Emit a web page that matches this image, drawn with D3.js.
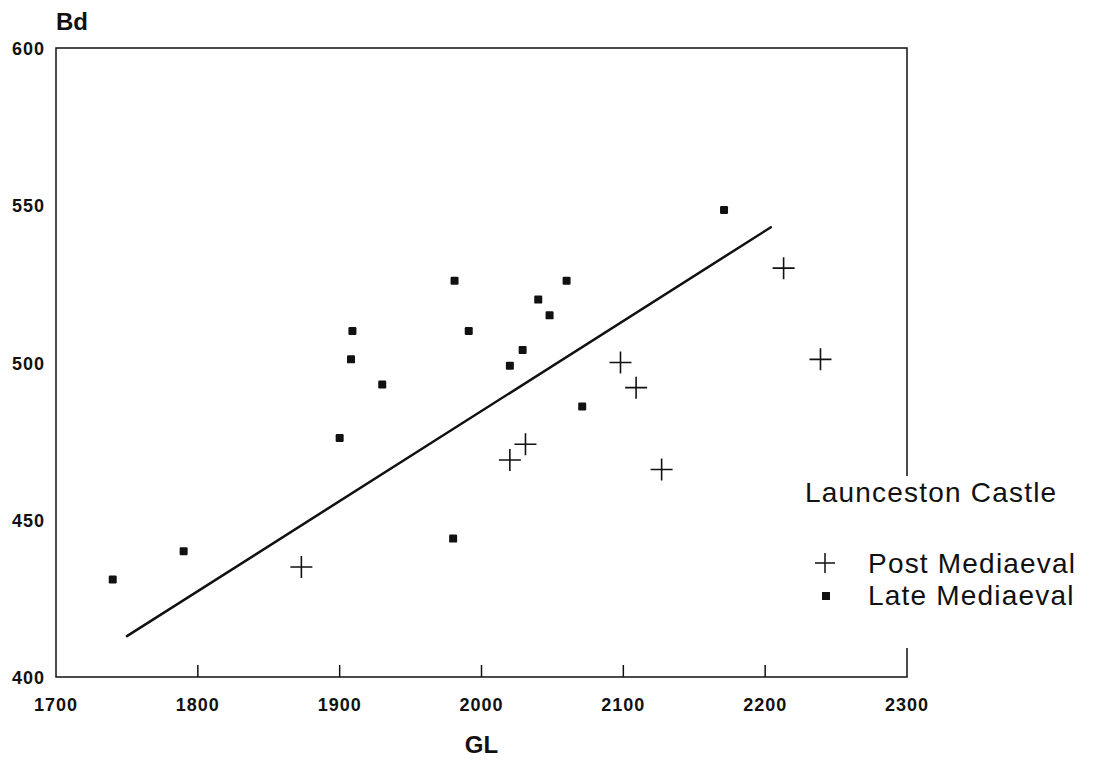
<!DOCTYPE html>
<meta charset="utf-8">
<script src="https://d3js.org/d3.v7.min.js"></script>
<style>
  body { margin: 0; background: #fff; }
  text { font-family: "Liberation Sans", Arial, sans-serif; fill: #111; }
  .tick-label { font-weight: bold; font-size: 18px; letter-spacing: 1px; }
  .axis-title { font-weight: bold; font-size: 24px; }
  .legend { font-size: 28px; letter-spacing: 1.2px; }
</style>
<body>
<svg id="svg" width="1094" height="761"></svg>
<script>
// Late Mediaeval (squares)
var lateGL = [1740, 1790, 1900, 1908, 1909, 1930, 1980, 1981, 1991, 2020, 2029, 2040, 2048, 2060, 2071, 2171];
var lateBd = [431, 440, 476, 501, 510, 493, 444, 526, 510, 499, 504, 520, 515, 526, 486, 548.5];

// Post Mediaeval (crosses)
var postGL = [1873, 2020, 2031, 2098, 2109, 2127, 2213, 2239];
var postBd = [435, 469, 474, 500, 492, 466, 530, 501];

// fitted line end points
var fitGL = [1750, 2204];
var fitBd = [413, 543];

var xTicks = [1700, 1800, 1900, 2000, 2100, 2200, 2300];
var yTicks = [400, 450, 500, 550, 600];

var svg = d3.select("svg");

var x = d3.scaleLinear().domain([1700, 2300]).range([56, 907]);
var y = d3.scaleLinear().domain([400, 600]).range([677, 48]);

// frame: left, top, bottom, right (right broken around the legend)
var frame = svg.append("g").attr("stroke", "#111").attr("stroke-width", 1.5).attr("fill", "none");
frame.append("path").attr("d", "M" + x(2300) + "," + 476 + "V" + y(600) + "H" + x(1700) + "V" + y(400) + "H" + x(2300) + "V" + 648);

// bottom ticks, pointing inward
svg.append("g")
    .selectAll("line")
    .data(xTicks.slice(1, -1))
    .enter()
    .append("line")
    .attr("x1", function(d) { return x(d); })
    .attr("x2", function(d) { return x(d); })
    .attr("y1", y(400))
    .attr("y2", y(400) - 12)
    .attr("stroke", "#111")
    .attr("stroke-width", 1.5);

svg.append("g")
    .selectAll("text")
    .data(xTicks)
    .enter()
    .append("text")
    .attr("class", "tick-label")
    .attr("x", function(d) { return x(d); })
    .attr("y", y(400) + 34)
    .attr("text-anchor", "middle")
    .text(function(d) { return d; });

svg.append("g")
    .selectAll("text")
    .data(yTicks)
    .enter()
    .append("text")
    .attr("class", "tick-label")
    .attr("x", 45)
    .attr("y", function(d) { return y(d) + 7; })
    .attr("text-anchor", "end")
    .text(function(d) { return d; });

svg.append("text").attr("class", "axis-title").attr("x", 56).attr("y", 30).text("Bd");
svg.append("text").attr("class", "axis-title").attr("x", x(2000)).attr("y", 753).attr("text-anchor", "middle").text("GL");

// fitted line
svg.append("line")
    .attr("x1", x(fitGL[0])).attr("y1", y(fitBd[0]))
    .attr("x2", x(fitGL[1])).attr("y2", y(fitBd[1]))
    .attr("stroke", "#111")
    .attr("stroke-width", 2.5)
    .attr("stroke-linecap", "round");

// late mediaeval squares
svg.append("g")
    .selectAll("rect")
    .data(d3.range(lateGL.length))
    .enter()
    .append("rect")
    .attr("x", function(i) { return x(lateGL[i]) - 4; })
    .attr("y", function(i) { return y(lateBd[i]) - 4; })
    .attr("width", 8)
    .attr("height", 8)
    .attr("rx", 1.2)
    .attr("fill", "#111");

// post mediaeval crosses
function plus(cx, cy, r) {
    return "M" + (cx - r) + "," + cy + "H" + (cx + r) + "M" + cx + "," + (cy - r) + "V" + (cy + r);
}
svg.append("g")
    .selectAll("path")
    .data(d3.range(postGL.length))
    .enter()
    .append("path")
    .attr("d", function(i) { return plus(x(postGL[i]), y(postBd[i]), 11); })
    .attr("stroke", "#111")
    .attr("stroke-width", 1.6)
    .attr("fill", "none");

// legend
svg.append("text").attr("class", "legend").attr("x", 805).attr("y", 502).text("Launceston Castle");
svg.append("path").attr("d", plus(825, 563, 10)).attr("stroke", "#111").attr("stroke-width", 1.5);
svg.append("text").attr("class", "legend").attr("x", 868).attr("y", 573).text("Post Mediaeval");
svg.append("rect").attr("x", 822).attr("y", 592).attr("width", 8).attr("height", 8).attr("fill", "#111");
svg.append("text").attr("class", "legend").attr("x", 868).attr("y", 605).text("Late Mediaeval");
</script>
</body>
